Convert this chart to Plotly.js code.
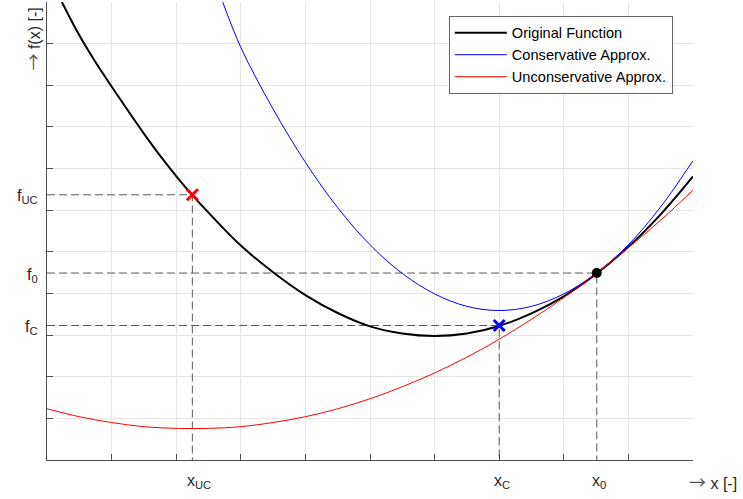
<!DOCTYPE html>
<html>
<head>
<meta charset="utf-8">
<script src="https://cdn.plot.ly/plotly-3.0.1.min.js"></script>
<style>html,body{margin:0;padding:0;background:#fff;}#chart{width:743px;height:499px;}</style>
</head>
<body>
<div id="chart"></div>
<script>
// Original function (black)
const origX = [0.23, 0.5, 0.75, 1.0, 1.25, 1.5, 1.75, 2.0, 2.25, 2.5, 3.0, 3.5, 4.0, 4.5, 5.0, 5.5, 6.0, 6.5, 7.0, 7.5, 8.0, 8.5, 9.0, 9.5, 10.0];
const origY = [11.0, 10.2, 9.56, 8.97, 8.40, 7.84, 7.31, 6.82, 6.36, 5.94, 5.15, 4.51, 3.96, 3.53, 3.21, 3.04, 2.98, 3.04, 3.22, 3.52, 3.93, 4.47, 5.12, 5.90, 6.81];
// Conservative approximation (blue)
const consX = [2.72, 3.0, 3.5, 4.0, 4.5, 5.0, 5.5, 6.0, 6.5, 7.0, 7.5, 8.0, 8.5, 9.0, 9.5, 10.0];
const consY = [11.0, 9.91, 8.43, 7.15, 6.06, 5.17, 4.48, 3.99, 3.69, 3.59, 3.69, 3.99, 4.48, 5.17, 6.08, 7.19];
// Unconservative approximation (red)
const uncX = [0.0, 0.5, 1.0, 1.5, 2.0, 2.5, 3.0, 3.5, 4.0, 4.5, 5.0, 5.5, 6.0, 6.5, 7.0, 7.5, 8.0, 8.5, 9.0, 9.5, 10.0];
const uncY = [1.23, 1.04, 0.90, 0.80, 0.76, 0.76, 0.80, 0.90, 1.04, 1.23, 1.47, 1.76, 2.09, 2.47, 2.90, 3.38, 3.90, 4.48, 5.10, 5.76, 6.48];
// Special points: unconservative optimum, conservative optimum, expansion point
const specialX = [2.25, 7.0, 8.51];
const specialF = [6.37, 3.23, 4.49];
const specialXLabels = ['x<sub>UC</sub>', 'x<sub>C</sub>', 'x<sub>0</sub>'];
const specialFLabels = ['f<sub>UC</sub>', 'f<sub>C</sub>', 'f<sub>0</sub>'];
const seriesNames = ['Original Function', 'Conservative Approx.', 'Unconservative Approx.'];

const FONT = 'Liberation Sans, Arial, sans-serif';
const TXT = '#262626';
const ARROW = '<span style="font-family:Noto Sans CJK JP;font-size:17px;fill:#555555">→</span>';
const traces = [];

// dashed guide lines (built from the special points)
specialX.forEach((sx, i) => {
  traces.push({
    x: [0, sx, sx], y: [specialF[i], specialF[i], 0],
    mode: 'lines', showlegend: false, hoverinfo: 'skip',
    line: {color: '#5a5a5a', width: 1, dash: '8px,4px'}
  });
});

traces.push({x: origX, y: origY, name: seriesNames[0], mode: 'lines',
  line: {color: '#000000', width: 2, shape: 'spline', smoothing: 1}});
traces.push({x: consX, y: consY, name: seriesNames[1], mode: 'lines',
  line: {color: '#0000ff', width: 1, shape: 'spline', smoothing: 1}});
traces.push({x: uncX, y: uncY, name: seriesNames[2], mode: 'lines',
  line: {color: '#ff0000', width: 1, shape: 'spline', smoothing: 1}});

// markers
traces.push({x: [specialX[0]], y: [specialF[0]], mode: 'markers', showlegend: false,
  marker: {symbol: 'x-thin', size: 11, line: {color: '#ff0000', width: 3}}});
traces.push({x: [specialX[1]], y: [specialF[1]], mode: 'markers', showlegend: false,
  marker: {symbol: 'x-thin', size: 11, line: {color: '#0000ff', width: 3}}});
traces.push({x: [specialX[2]], y: [specialF[2]], mode: 'markers', showlegend: false,
  marker: {symbol: 'circle', size: 10, color: '#000000'}});

const annotations = [];
specialX.forEach((sx, i) => {
  annotations.push({x: sx, xref: 'x', y: 0, yref: 'paper', text: specialXLabels[i],
    showarrow: false, xanchor: 'left', yanchor: 'top', xshift: -7, yshift: -10,
    font: {family: FONT, size: 16, color: TXT}});
  annotations.push({x: 0, xref: 'paper', y: specialF[i], yref: 'y', text: specialFLabels[i],
    showarrow: false, xanchor: 'right', yanchor: 'middle', xshift: -7, yshift: -2,
    font: {family: FONT, size: 16, color: TXT}});
});
annotations.push({x: 1, xref: 'paper', y: 0, yref: 'paper', text: ARROW + ' x [-]',
  showarrow: false, xanchor: 'left', yanchor: 'middle', xshift: -6, yshift: -21,
  font: {family: FONT, size: 16, color: TXT}});
annotations.push({x: 0, xref: 'paper', y: 0.918, yref: 'paper', text: ARROW + ' f(x) [-]',
  showarrow: false, textangle: -90, xanchor: 'center', yanchor: 'middle', xshift: -14,
  font: {family: FONT, size: 16, color: TXT}});

const axisCommon = {
  showgrid: true, gridcolor: '#e4e4e4', gridwidth: 1,
  ticks: 'inside', ticklen: 6, tickcolor: '#4d4d4d', tickwidth: 1,
  showticklabels: false, showline: true, linecolor: '#4d4d4d', linewidth: 1,
  zeroline: false, mirror: false, fixedrange: true
};

const layout = {
  width: 743, height: 499,
  margin: {l: 47, r: 50, t: 2, b: 39},
  paper_bgcolor: '#ffffff', plot_bgcolor: '#ffffff',
  xaxis: Object.assign({range: [0, 10], tick0: 0, dtick: 1}, axisCommon),
  yaxis: Object.assign({range: [0, 11], tick0: 0, dtick: 1}, axisCommon),
  showlegend: true,
  legend: {x: 0.622, y: 0.97, xanchor: 'left', yanchor: 'top',
    bgcolor: '#ffffff', bordercolor: '#666666', borderwidth: 1,
    font: {family: FONT, size: 14.6, color: '#000000'}, itemwidth: 52, tracegroupgap: 0},
  annotations: annotations
};

Plotly.newPlot('chart', traces, layout, {staticPlot: true, displayModeBar: false});
</script>
</body>
</html>
